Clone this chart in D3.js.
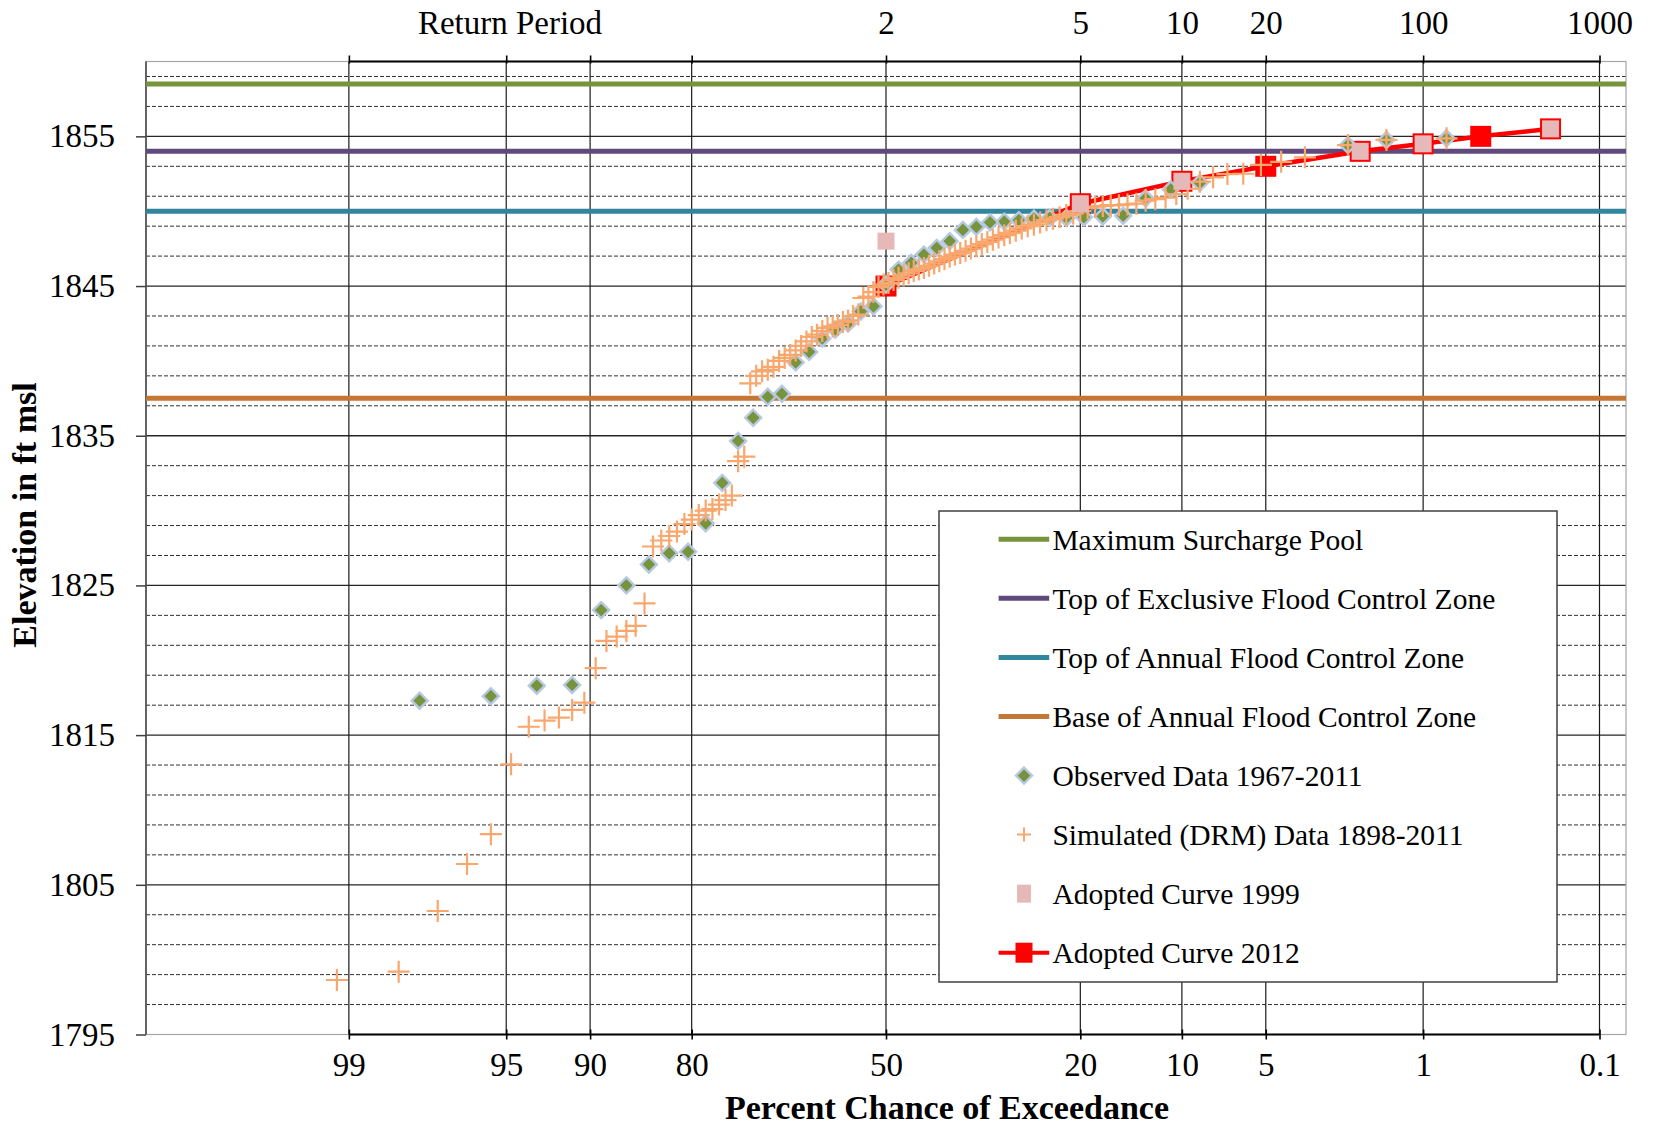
<!DOCTYPE html>
<html><head><meta charset="utf-8">
<script src="https://cdn.jsdelivr.net/npm/d3@7"></script>
<style>
body{margin:0;background:#fff}
svg{display:block}
text{font-family:"Liberation Serif","Times New Roman",serif;fill:#000}
</style>
</head><body>
<svg id="chart" width="1670" height="1125"></svg>
<script>
// ---------------- DATA ----------------
const percentTicks = [99, 95, 90, 80, 50, 20, 10, 5, 1, 0.1];
const percentTickLabels = ["99", "95", "90", "80", "50", "20", "10", "5", "1", "0.1"];
const returnPeriodTicks = [50, 20, 10, 5, 1, 0.1];
const returnPeriodLabels = ["2", "5", "10", "20", "100", "1000"];
const elevationTicks = [1795, 1805, 1815, 1825, 1835, 1845, 1855];

const referenceNames = ["Maximum Surcharge Pool", "Top of Exclusive Flood Control Zone", "Top of Annual Flood Control Zone", "Base of Annual Flood Control Zone"];
const referenceLevels = [1858.5, 1854, 1850, 1837.5];
const referenceColors = ["#77933C", "#604A7B", "#31859C", "#C47634"];

const observedPct = [0.76, 1.51, 2.27, 8.70, 10.87, 13.04, 15.22, 17.39, 19.57, 21.74, 23.91, 26.09, 28.26, 30.43, 32.61, 34.78, 36.96, 39.13, 41.30, 43.48, 45.65, 47.83, 50.00, 52.17, 54.35, 56.52, 58.70, 60.87, 63.04, 65.22, 67.39, 69.57, 71.74, 73.91, 76.09, 78.26, 80.43, 82.61, 84.78, 86.96, 89.13, 91.30, 93.48, 95.65, 97.83];
const observedElev = [1854.87, 1854.76, 1854.42, 1851.9, 1851.46, 1850.86, 1849.7, 1849.65, 1849.6, 1849.55, 1849.55, 1849.5, 1849.4, 1849.3, 1849.25, 1848.95, 1848.75, 1848.0, 1847.55, 1847.1, 1846.55, 1846.1, 1845.1, 1843.65, 1843.3, 1842.5, 1842.1, 1841.5, 1840.6, 1839.9, 1837.8, 1837.6, 1836.2, 1834.65, 1831.85, 1829.15, 1827.25, 1827.15, 1826.4, 1825.0, 1823.35, 1818.35, 1818.3, 1817.6, 1817.3];

const simulatedPct = [0.76, 1.51, 2.27, 3.48, 4.35, 5.22, 6.09, 6.96, 7.83, 8.70, 9.57, 10.43, 11.30, 12.17, 13.04, 13.91, 14.78, 15.65, 16.52, 17.39, 18.26, 19.13, 20.00, 20.87, 21.74, 22.61, 23.48, 24.35, 25.22, 26.09, 26.96, 27.83, 28.70, 29.57, 30.43, 31.30, 32.17, 33.04, 33.91, 34.78, 35.65, 36.52, 37.39, 38.26, 39.13, 40.00, 40.87, 41.74, 42.61, 43.48, 44.35, 45.22, 46.09, 46.96, 47.83, 48.70, 49.57, 50.43, 51.30, 52.17, 53.04, 53.91, 54.78, 55.65, 56.52, 57.39, 58.26, 59.13, 60.00, 60.87, 61.74, 62.61, 63.48, 64.35, 65.22, 66.09, 66.96, 67.83, 68.70, 69.57, 70.43, 71.30, 72.17, 73.04, 73.91, 74.78, 75.65, 76.52, 77.39, 78.26, 79.13, 80.00, 80.87, 81.74, 82.61, 83.48, 84.35, 85.22, 86.09, 86.96, 87.83, 88.70, 89.57, 90.43, 91.30, 92.17, 93.04, 93.91, 94.78, 95.65, 96.52, 97.39, 98.26, 99.13];
const simulatedElev = [1854.87, 1854.76, 1854.42, 1853.6, 1853.3, 1853.09, 1852.5, 1852.48, 1852.26, 1851.97, 1851.5, 1851.15, 1850.9, 1850.8, 1850.7, 1850.5, 1850.45, 1850.4, 1850.4, 1850.35, 1850.3, 1850.2, 1850.0, 1849.85, 1849.75, 1849.6, 1849.5, 1849.4, 1849.25, 1849.1, 1849.0, 1848.85, 1848.7, 1848.55, 1848.4, 1848.25, 1848.1, 1847.95, 1847.8, 1847.65, 1847.5, 1847.35, 1847.2, 1847.1, 1846.95, 1846.8, 1846.65, 1846.5, 1846.35, 1846.2, 1846.1, 1846.0, 1845.85, 1845.7, 1845.55, 1845.4, 1845.2, 1845.1, 1844.95, 1844.6, 1844.3, 1844.2, 1843.1, 1843.0, 1842.7, 1842.6, 1842.4, 1842.3, 1842.2, 1842.0, 1841.75, 1841.6, 1841.3, 1841.0, 1840.7, 1840.4, 1840.2, 1840.0, 1839.6, 1839.4, 1839.3, 1839.0, 1838.5, 1833.6, 1833.3, 1831.0, 1830.7, 1830.4, 1830.1, 1830.0, 1829.7, 1829.4, 1829.1, 1828.6, 1828.3, 1828.0, 1827.6, 1823.8, 1822.3, 1821.96, 1821.58, 1821.29, 1819.47, 1817.17, 1816.68, 1816.17, 1815.97, 1815.56, 1813.05, 1808.38, 1806.39, 1803.25, 1799.2, 1798.64];

const adopted1999Pct = [50, 20, 10, 2, 1, 0.2];
const adopted1999Elev = [1848, 1850.5, 1852, 1854, 1854.5, 1855.5];
const adopted2012Pct = [50, 20, 10, 5, 2, 1, 0.5, 0.2];
const adopted2012Elev = [1845, 1850.5, 1852, 1853, 1854, 1854.5, 1855, 1855.5];

// ---------------- HELPERS ----------------
function qnorm(p) {
  const a=[-3.969683028665376e+01,2.209460984245205e+02,-2.759285104469687e+02,1.383577518672690e+02,-3.066479806614716e+01,2.506628277459239e+00];
  const b=[-5.447609879822406e+01,1.615858368580409e+02,-1.556989798598866e+02,6.680131188771972e+01,-1.328068155288572e+01];
  const c=[-7.784894002430293e-03,-3.223964580411365e-01,-2.400758277161838e+00,-2.549732539343734e+00,4.374664141464968e+00,2.938163982698783e+00];
  const d=[7.784695709041462e-03,3.224671290700398e-01,2.445134137142996e+00,3.754408661907416e+00];
  const pl=0.02425, ph=1-pl; let q, r;
  if (p < pl) { q=Math.sqrt(-2*Math.log(p)); return (((((c[0]*q+c[1])*q+c[2])*q+c[3])*q+c[4])*q+c[5])/((((d[0]*q+d[1])*q+d[2])*q+d[3])*q+1); }
  if (p <= ph) { q=p-0.5; r=q*q; return (((((a[0]*r+a[1])*r+a[2])*r+a[3])*r+a[4])*r+a[5])*q/(((((b[0]*r+b[1])*r+b[2])*r+b[3])*r+b[4])*r+1); }
  q=Math.sqrt(-2*Math.log(1-p)); return -(((((c[0]*q+c[1])*q+c[2])*q+c[3])*q+c[4])*q+c[5])/((((d[0]*q+d[1])*q+d[2])*q+d[3])*q+1);
}
const pz = p => qnorm(1 - p / 100);

// ---------------- LAYOUT ----------------
const L = 146, R = 1626, T = 61.5, B = 1034.5;
const zScale = d3.scaleLinear().domain([-3.205, 3.205]).range([L, R]);
const x = p => zScale(pz(p));
const y = d3.scaleLinear().domain([1795, 1860]).range([B, T]);

const svg = d3.select("#chart");
svg.append("rect").attr("width", 1670).attr("height", 1125).attr("fill", "#fff");

// grid
const grid = svg.append("g");
grid.selectAll(".minor").data(d3.range(1797, 1860, 2).filter(v => (v - 1795) % 10 !== 0)).join("line")
  .attr("x1", L).attr("x2", R).attr("y1", d => y(d)).attr("y2", d => y(d))
  .attr("stroke", "#303030").attr("stroke-width", 1).attr("stroke-dasharray", "4,2");
grid.selectAll(".major").data(elevationTicks.slice(1)).join("line")
  .attr("x1", L).attr("x2", R).attr("y1", d => y(d)).attr("y2", d => y(d))
  .attr("stroke", "#262626").attr("stroke-width", 1.3);
grid.selectAll(".vert").data(percentTicks).join("line")
  .attr("x1", d => x(d)).attr("x2", d => x(d)).attr("y1", T).attr("y2", B)
  .attr("stroke", "#1a1a1a").attr("stroke-width", 1.2);

// plot border
svg.append("rect").attr("x", L).attr("y", T).attr("width", R - L).attr("height", B - T)
  .attr("fill", "none").attr("stroke", "#a6a6a6").attr("stroke-width", 1.2);
svg.append("line").attr("x1", L).attr("x2", L).attr("y1", T).attr("y2", B).attr("stroke", "#404040").attr("stroke-width", 1.5);

// reference lines
svg.append("g").selectAll("line").data(referenceLevels).join("line")
  .attr("x1", L).attr("x2", R).attr("y1", d => y(d)).attr("y2", d => y(d))
  .attr("stroke", (d, i) => referenceColors[i]).attr("stroke-width", 5);

// axes
const fs = 33;
const bottomAxis = d3.axisBottom(zScale).tickValues(percentTicks.map(pz))
  .tickFormat((d, i) => percentTickLabels[i]).tickSizeInner(5).tickSizeOuter(0).tickPadding(22);
const gb = svg.append("g").attr("transform", `translate(0,${B})`).call(bottomAxis);
gb.select(".domain").attr("d", `M${x(99)},0H${x(0.1)}`).attr("stroke", "#000").attr("stroke-width", 2.2);
gb.selectAll(".tick line").attr("y1", -5).attr("y2", 5).attr("stroke", "#000").attr("stroke-width", 1.6);
gb.selectAll(".tick text").attr("font-size", fs).attr("dy", "0.71em").attr("y", 18)
  .style("font-family", '"Liberation Serif","Times New Roman",serif').attr("fill", "#000");

const topAxis = d3.axisTop(zScale).tickValues(percentTicks.map(pz))
  .tickFormat(d => { const i = returnPeriodTicks.findIndex(p => Math.abs(pz(p) - d) < 1e-9); return i >= 0 ? returnPeriodLabels[i] : ""; })
  .tickSizeInner(6).tickSizeOuter(0);
const gt = svg.append("g").attr("transform", `translate(0,${T})`).call(topAxis);
gt.select(".domain").attr("d", `M${x(99)},0H${x(0.1)}`).attr("stroke", "#000").attr("stroke-width", 2.2);
gt.selectAll(".tick line").attr("y1", -6).attr("y2", 2).attr("stroke", "#000").attr("stroke-width", 1.6);
gt.selectAll(".tick text").attr("font-size", fs).attr("y", -39).attr("dy", "0.35em")
  .style("font-family", '"Liberation Serif","Times New Roman",serif').attr("fill", "#000");

const leftAxis = d3.axisLeft(y).tickValues(elevationTicks).tickFormat(d3.format("d"))
  .tickSizeInner(10).tickSizeOuter(0).tickPadding(21);
const gl = svg.append("g").attr("transform", `translate(${L},0)`).call(leftAxis);
gl.select(".domain").remove();
gl.selectAll(".tick line").attr("stroke", "#404040").attr("stroke-width", 1.5);
gl.selectAll(".tick text").attr("font-size", fs)
  .style("font-family", '"Liberation Serif","Times New Roman",serif').attr("fill", "#000");

// titles
svg.append("text").attr("x", 510).attr("y", 22.5).attr("dy", "0.35em").attr("text-anchor", "middle")
  .attr("font-size", fs).text("Return Period");
svg.append("text").attr("x", 947).attr("y", 1107.5).attr("dy", "0.35em").attr("text-anchor", "middle")
  .attr("font-size", 34).attr("font-weight", "bold").text("Percent Chance of Exceedance");
svg.append("text").attr("transform", "translate(24,515) rotate(-90)").attr("dy", "0.35em").attr("text-anchor", "middle")
  .attr("font-size", 34).attr("font-weight", "bold").text("Elevation in ft msl");

// marker helpers
const diamondPath = "M0,-8L8,0L0,8L-8,0Z";
const plusPath = "M-11,0H11M0,-11V11";
const plotG = svg.append("g");

// Adopted 2012 (line + red squares)
const line2012 = d3.line().x(d => x(d[0])).y(d => y(d[1]));
const d2012 = adopted2012Pct.map((p, i) => [p, adopted2012Elev[i]]);
plotG.append("path").datum(d2012).attr("d", line2012).attr("fill", "none").attr("stroke", "#FF0000").attr("stroke-width", 4.5);
plotG.selectAll(".sq12").data(d2012).join("rect")
  .attr("x", d => x(d[0]) - 10.5).attr("y", d => y(d[1]) - 10.5).attr("width", 21).attr("height", 21).attr("fill", "#FF0000");

// Observed diamonds
plotG.selectAll(".obs").data(observedPct.map((p, i) => [p, observedElev[i]])).join("path")
  .attr("d", diamondPath).attr("transform", d => `translate(${x(d[0])},${y(d[1])})`)
  .attr("fill", "#77933C").attr("stroke", "#B7C9E2").attr("stroke-width", 2.4);

// Simulated pluses
plotG.selectAll(".sim").data(simulatedPct.map((p, i) => [p, simulatedElev[i]])).join("path")
  .attr("d", plusPath).attr("transform", d => `translate(${x(d[0])},${y(d[1])})`)
  .attr("fill", "none").attr("stroke", "#FAA76E").attr("stroke-width", 2.2);

// Adopted 1999 pink squares
plotG.selectAll(".sq99").data(adopted1999Pct.map((p, i) => [p, adopted1999Elev[i]])).join("rect")
  .attr("x", d => x(d[0]) - 8.5).attr("y", d => y(d[1]) - 8.5).attr("width", 17).attr("height", 17).attr("fill", "#E6B9B8");

// ---------------- LEGEND ----------------
const lg = svg.append("g");
lg.append("rect").attr("x", 939).attr("y", 511).attr("width", 618).attr("height", 471)
  .attr("fill", "#fff").attr("stroke", "#404040").attr("stroke-width", 1.5);
const legendNames = referenceNames.concat(["Observed Data 1967-2011", "Simulated (DRM) Data 1898-2011", "Adopted Curve 1999", "Adopted Curve 2012"]);
const ly = i => 539.3 + i * 59.06;
const lx1 = 998.6, lx2 = 1049.2, lxc = 1024;
referenceColors.forEach((c, i) => {
  lg.append("line").attr("x1", lx1).attr("x2", lx2).attr("y1", ly(i)).attr("y2", ly(i)).attr("stroke", c).attr("stroke-width", 5);
});
lg.append("path").attr("d", diamondPath).attr("transform", `translate(${lxc},${ly(4)})`)
  .attr("fill", "#77933C").attr("stroke", "#B7C9E2").attr("stroke-width", 2.4);
lg.append("path").attr("d", "M-7,0H7M0,-7V7").attr("transform", `translate(${lxc},${ly(5)})`)
  .attr("fill", "none").attr("stroke", "#FAA76E").attr("stroke-width", 2);
lg.append("rect").attr("x", lxc - 7).attr("y", ly(6) - 9).attr("width", 14).attr("height", 18).attr("fill", "#E6B9B8");
lg.append("line").attr("x1", lx1).attr("x2", lx2).attr("y1", ly(7)).attr("y2", ly(7)).attr("stroke", "#FF0000").attr("stroke-width", 4);
lg.append("rect").attr("x", lxc - 8.5).attr("y", ly(7) - 10).attr("width", 17).attr("height", 20).attr("fill", "#FF0000");
lg.selectAll(".lt").data(legendNames).join("text")
  .attr("x", 1052.4).attr("y", (d, i) => ly(i)).attr("dy", "0.35em").attr("font-size", 29.5).text(d => d);
</script>
</body></html>
